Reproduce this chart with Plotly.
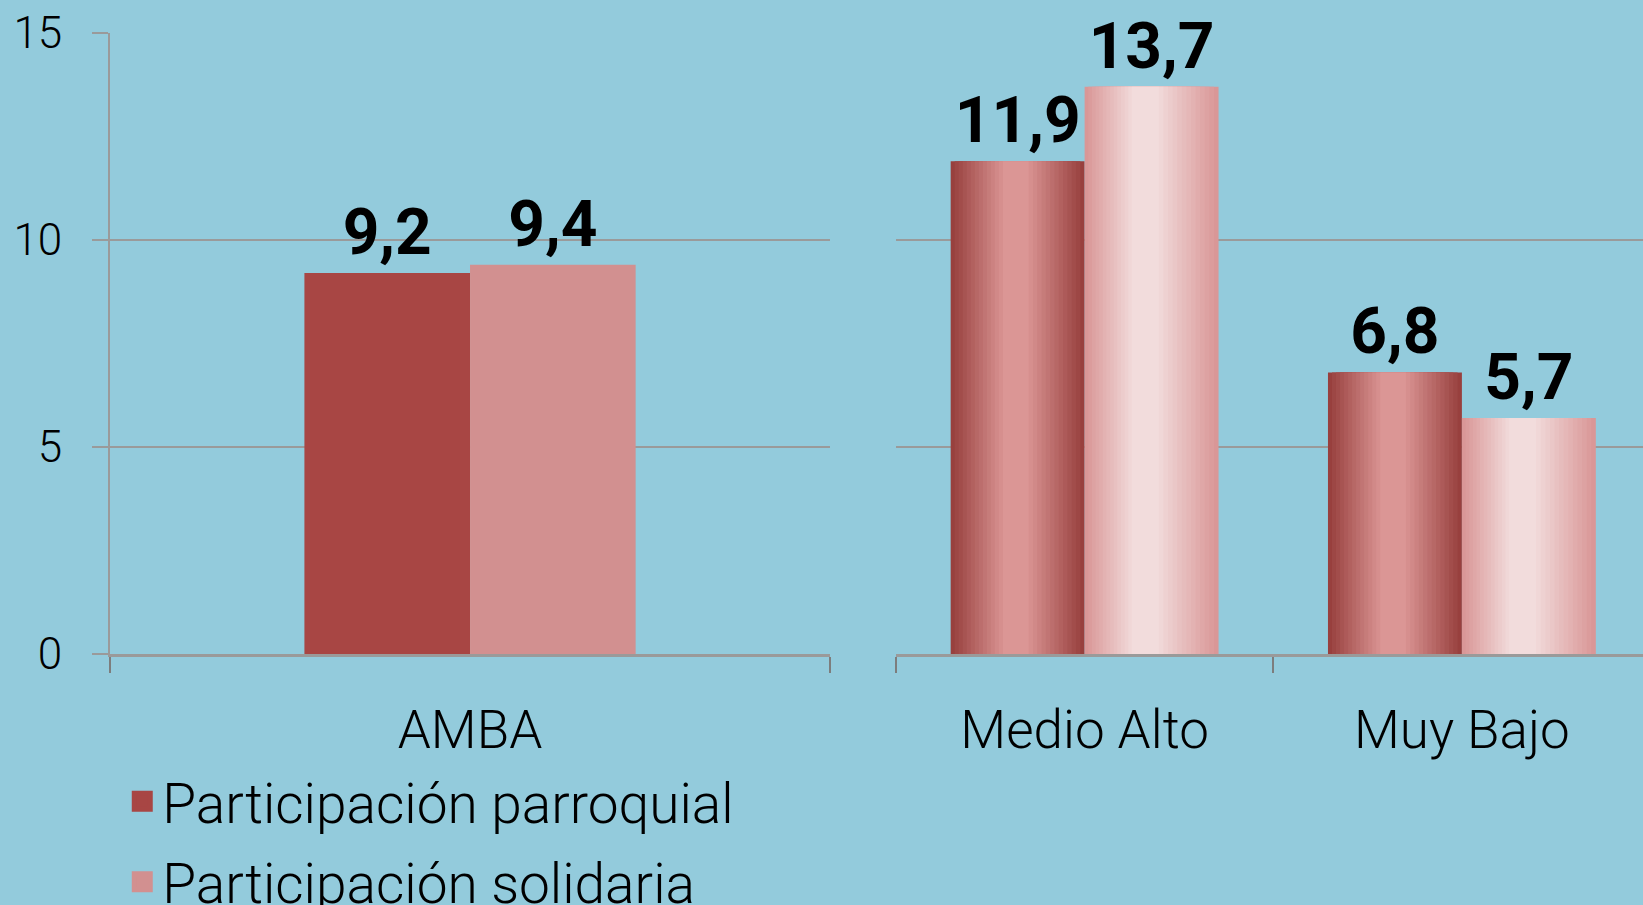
import plotly.graph_objects as go

# Data
cats_left = ["AMBA"]
cats_right = ["Medio Alto", "Muy Bajo"]
series_names = ["Participación parroquial", "Participación solidaria"]
parroquial_left = [9.2]
solidaria_left = [9.4]
parroquial_right = [11.9, 6.8]
solidaria_right = [13.7, 5.7]

# Style
BG = "#93CBDC"
GRID = "#9a9a9a"
FONT = "Roboto"
flat_colors = ["#A84644", "#D29090"]
# cylinder gradient: (edge, peak, plateau start, plateau end)
grad = [("#98403e", "#db9695", 0.42, 0.55), ("#d99797", "#f2dcdc", 0.38, 0.52)]
N_LAYERS = 14


def hex2rgb(h):
    h = h.lstrip("#")
    return [int(h[i:i + 2], 16) for i in (0, 2, 4)]


def mix(c1, c2, t):
    a, b = hex2rgb(c1), hex2rgb(c2)
    return "rgb({},{},{})".format(*[round(a[i] + (b[i] - a[i]) * t) for i in range(3)])


label_font = dict(family=FONT, size=64, color="black", weight="bold")

fig = go.Figure()

# left panel: flat bars
w_left = 0.23
for i, vals in enumerate([parroquial_left, solidaria_left]):
    fig.add_trace(go.Bar(
        x=cats_left, y=vals, width=w_left, offset=-w_left + i * w_left,
        marker=dict(color=flat_colors[i], line=dict(width=0)),
        texttemplate="%{y:.1f}", textposition="outside", constraintext="none",
        cliponaxis=False, textfont=label_font,
        showlegend=False, xaxis="x", yaxis="y",
    ))

# right panel: bars with cylinder shading (stacked narrower layers)
w_right = 0.355
for i, vals in enumerate([parroquial_right, solidaria_right]):
    edge, peak, p0, p1 = grad[i]
    base = -w_right + i * w_right
    for k in range(N_LAYERS):
        lo = p0 * k / N_LAYERS
        hi = 1 - (1 - p1) * k / N_LAYERS
        fig.add_trace(go.Bar(
            x=cats_right, y=vals, width=(hi - lo) * w_right, offset=base + lo * w_right,
            marker=dict(color=mix(edge, peak, k / (N_LAYERS - 1)), line=dict(width=0)),
            texttemplate="%{y:.1f}" if k == 0 else None,
            textposition="outside" if k == 0 else "none", constraintext="none",
            cliponaxis=False, textfont=label_font,
            showlegend=False, hoverinfo="skip" if k else None, xaxis="x2", yaxis="y2",
        ))

# legend entries
for i, name in enumerate(series_names):
    fig.add_trace(go.Scatter(
        x=[None], y=[None], mode="markers", name=name, legendgroup=name,
        marker=dict(symbol="square", size=16, color=flat_colors[i],
                    line=dict(width=5, color=flat_colors[i])),
        xaxis="x", yaxis="y",
    ))

xcommon = dict(type="category", showline=True, linecolor=GRID, linewidth=3,
               ticks="outside", tickson="boundaries", ticklen=16, tickwidth=2,
               tickcolor="#7d7d7d", tickfont=dict(size=53, weight=300),
               ticklabelstandoff=27, showgrid=False)
yax = dict(range=[0, 15], dtick=5, gridcolor=GRID, gridwidth=2, zeroline=False)
fig.update_layout(
    width=1643, height=905,
    margin=dict(l=110, r=0, t=33, b=251, autoexpand=False),
    paper_bgcolor=BG, plot_bgcolor=BG,
    barmode="overlay", separators=",.",
    font=dict(family=FONT, color="black"),
    xaxis=dict(**xcommon, domain=[0, 0.4697], range=[-0.5, 0.5]),
    xaxis2=dict(**xcommon, domain=[0.5127, 1], range=[-0.5, 1.48], anchor="y2"),
    yaxis=dict(**yax, showline=True, linecolor=GRID, linewidth=2, ticks="outside",
               ticklen=16, tickwidth=2, tickcolor=GRID, tickfont=dict(size=44, weight=300),
               ticklabelstandoff=21),
    yaxis2=dict(**yax, anchor="x2", showticklabels=False, ticks=""),
    legend=dict(x=0.008, xanchor="left", y=-0.169, yanchor="top", orientation="v",
                font=dict(size=55, weight=300), tracegroupgap=6, bgcolor="rgba(0,0,0,0)"),
    showlegend=True,
)

fig.write_html("out.html", config={"displayModeBar": False},
               post_script="document.body.style.margin='0';")
